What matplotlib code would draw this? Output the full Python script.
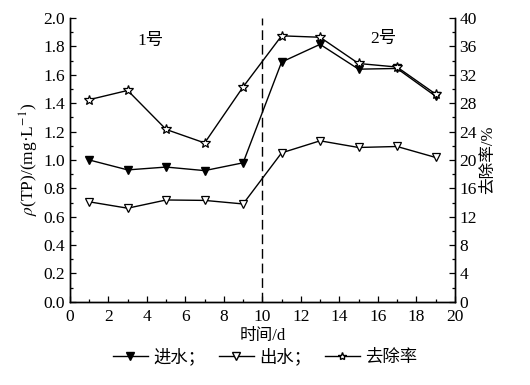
import matplotlib
matplotlib.use("Agg")
import matplotlib.pyplot as plt
from matplotlib.ticker import MultipleLocator
from matplotlib.lines import Line2D

plt.rcParams['font.family'] = ['Liberation Serif', 'Noto Sans CJK SC']
plt.rcParams['mathtext.fontset'] = 'stix'

days = [1, 3, 5, 7, 9, 11, 13, 15, 17, 19]
inflow = [1.00, 0.93, 0.95, 0.925, 0.98, 1.69, 1.815, 1.64, 1.645, 1.45]
outflow = [0.705, 0.66, 0.718, 0.715, 0.69, 1.05, 1.135, 1.088, 1.095, 1.018]
removal = [28.5, 29.8, 24.3, 22.4, 30.3, 37.5, 37.3, 33.6, 33.1, 29.3]

series_names = ["进水；", "出水；", "去除率"]
tank_labels = ["1号", "2号"]

fig = plt.figure(figsize=(5.3, 3.85), dpi=100)
ax = fig.add_axes([0.132, 0.216, 0.726, 0.737])
ax2 = ax.twinx()

lw = 1.0
ax.plot(days, inflow, color="black", lw=lw, marker="v", ms=5.5,
        mfc="black", mec="black", zorder=3)
ax.plot(days, outflow, color="black", lw=lw, marker="v", ms=6,
        mfc="white", mec="black", mew=0.9, zorder=3)
ax2.plot(days, removal, color="black", lw=lw, marker="*", ms=7,
         mfc="white", mec="black", mew=0.9, zorder=3)

ax.axvline(10, color="black", lw=1.0, ls=(0, (7, 3.5)))

ax.set_xlim(0, 20)
ax.set_ylim(0, 2.0)
ax2.set_ylim(0, 40)
ax.xaxis.set_major_locator(MultipleLocator(2))
ax.xaxis.set_minor_locator(MultipleLocator(1))
ax.yaxis.set_major_locator(MultipleLocator(0.2))
ax.yaxis.set_minor_locator(MultipleLocator(0.1))
ax2.yaxis.set_major_locator(MultipleLocator(4))
ax2.yaxis.set_minor_locator(MultipleLocator(2))
ax.yaxis.set_major_formatter(plt.FuncFormatter(lambda v, p: f"{v:.1f}"))

for a in (ax, ax2):
    a.spines["top"].set_visible(False)
    for s in a.spines.values():
        s.set_linewidth(1.0)
    a.tick_params(which="both", direction="in", labelsize=12.5, width=0.9)
    a.tick_params(which="major", length=4)
    a.tick_params(which="minor", length=2.5)
ax.tick_params(axis="x", pad=5)

ax.set_xlabel("时间/d", fontsize=12, labelpad=2)
ax.set_ylabel(r"$\rho$(TP)/(mg·L$^{-1}$)", fontsize=12.5, labelpad=2)
ax2.set_ylabel("去除率/%", fontsize=12, labelpad=2)

ax.text(4.2, 1.84, tank_labels[0], fontsize=12.5, ha="center", va="center")
ax.text(16.3, 1.85, tank_labels[1], fontsize=12.5, ha="center", va="center")

handles = [
    Line2D([], [], color="black", lw=lw, marker="v", ms=5.5, mfc="black"),
    Line2D([], [], color="black", lw=lw, marker="v", ms=5.5, mfc="white"),
    Line2D([], [], color="black", lw=lw, marker="*", ms=6, mfc="white"),
]
fig.legend(handles, series_names, loc="center", bbox_to_anchor=(0.5, 0.072),
           ncol=3, frameon=False, fontsize=12.5, handlelength=2.0,
           columnspacing=0.8, handletextpad=0.3)

fig.savefig("out.png", dpi=100)
